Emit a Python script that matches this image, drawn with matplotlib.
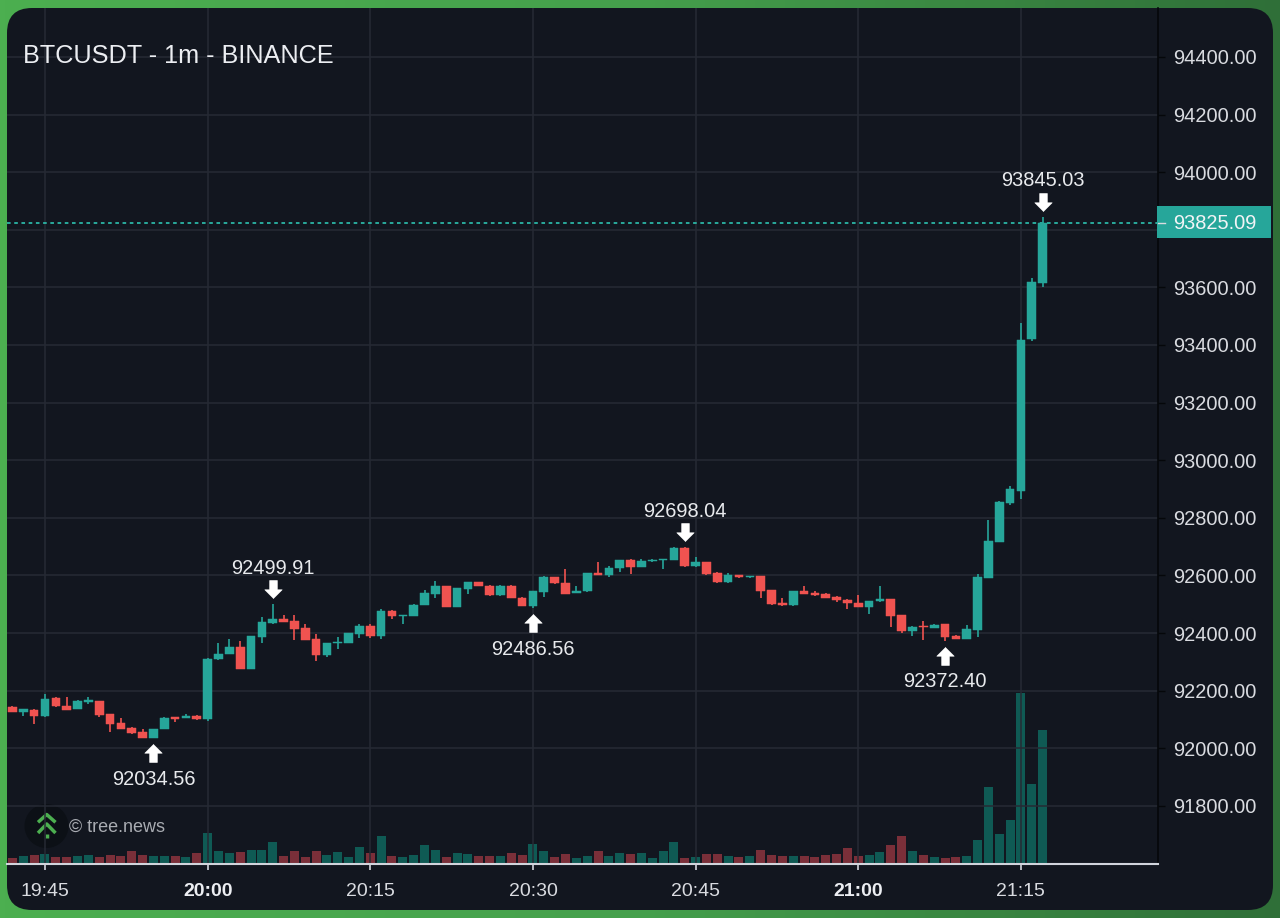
import numpy as np
import matplotlib
matplotlib.use("Agg")
import matplotlib.pyplot as plt
from matplotlib.colors import LinearSegmentedColormap
from matplotlib.patches import FancyBboxPatch, Circle, Rectangle
from matplotlib.path import Path
from matplotlib.transforms import offset_copy

plt.rcParams['font.family'] = ['Liberation Sans', 'DejaVu Sans']

# one-minute candles, 19:42 to 21:17
start_minute = 19 * 60 + 42
opens = [
 92144, 92127, 92134, 92111, 92173, 92148, 92136, 92160, 92163, 92119, 92088, 92069,
 92056, 92037, 92066, 92107, 92105, 92111, 92100, 92309, 92327, 92351, 92276, 92387,
 92434, 92450, 92442, 92417, 92379, 92322, 92365, 92365, 92397, 92423, 92388, 92478,
 92459, 92459, 92497, 92537, 92562, 92490, 92553, 92577, 92564, 92531, 92564, 92523,
 92495, 92542, 92593, 92574, 92539, 92545, 92609, 92601, 92624, 92655, 92629, 92649,
 92652, 92653, 92696, 92631, 92645, 92609, 92576, 92601, 92593, 92597, 92549, 92505,
 92496, 92546, 92540, 92537, 92524, 92515, 92505, 92490, 92510, 92517, 92461, 92408,
 92423, 92417, 92430, 92388, 92380, 92412, 92591, 92717, 92852, 92894, 93421, 93616]
closes = [
 92126, 92135, 92112, 92172, 92145, 92134, 92163, 92166, 92116, 92085, 92067, 92054,
 92037, 92066, 92106, 92100, 92112, 92100, 92311, 92328, 92351, 92276, 92390, 92438,
 92447, 92438, 92414, 92377, 92322, 92366, 92370, 92399, 92424, 92388, 92478, 92459,
 92462, 92498, 92540, 92562, 92490, 92556, 92577, 92563, 92531, 92564, 92523, 92495,
 92546, 92593, 92572, 92537, 92545, 92608, 92602, 92627, 92653, 92628, 92650, 92655,
 92656, 92696, 92631, 92645, 92606, 92576, 92602, 92593, 92597, 92546, 92502, 92496,
 92546, 92537, 92533, 92523, 92513, 92503, 92490, 92511, 92518, 92459, 92408, 92422,
 92420, 92429, 92385, 92379, 92414, 92593, 92718, 92856, 92899, 93417, 93619, 93825.09]
highs = [
 92145, 92136, 92135, 92188, 92177, 92177, 92167, 92179, 92164, 92120, 92106, 92075,
 92066, 92067, 92107, 92108, 92118, 92116, 92312, 92364, 92379, 92372, 92391, 92456,
 92499.91, 92461, 92461, 92431, 92397, 92367, 92386, 92400, 92431, 92430, 92485, 92479,
 92463, 92499, 92549, 92582, 92563, 92557, 92578, 92578, 92565, 92565, 92565, 92524,
 92547, 92599, 92594, 92621, 92564, 92609, 92645, 92634, 92654, 92656, 92657, 92656,
 92657, 92697, 92698.04, 92664, 92646, 92613, 92607, 92602, 92598, 92598, 92550, 92520,
 92547, 92564, 92545, 92538, 92528, 92518, 92531, 92512, 92564, 92518, 92462, 92425,
 92443, 92430, 92431, 92392, 92427, 92605, 92792, 92857, 92910, 93477, 93634, 93845.03]
lows = [
 92125, 92112, 92085, 92110, 92144, 92133, 92135, 92153, 92108, 92057, 92066, 92048,
 92036, 92034.56, 92065, 92090, 92104, 92098, 92093, 92308, 92326, 92275, 92275, 92364,
 92430, 92437, 92376, 92376, 92303, 92318, 92344, 92364, 92384, 92382, 92380, 92449,
 92432, 92458, 92496, 92521, 92489, 92489, 92537, 92562, 92530, 92530, 92522, 92494,
 92486.56, 92524, 92569, 92536, 92538, 92544, 92601, 92593, 92612, 92606, 92628, 92648,
 92621, 92652, 92630, 92630, 92601, 92575, 92575, 92592, 92590, 92521, 92498, 92495,
 92495, 92536, 92530, 92522, 92506, 92484, 92489, 92465, 92509, 92421, 92401, 92391,
 92377, 92416, 92372.40, 92378, 92379, 92386, 92590, 92716, 92845, 92867, 93415, 93600]
volumes = [
 6, 8, 8.7, 9.7, 7.3, 7.3, 8, 8.7, 7.3, 8.7, 8, 13.3,
 9, 8, 8.3, 8.3, 7.3, 10.7, 31, 13.3, 10.7, 11.7, 14.3, 14.3,
 22.3, 8.3, 13.3, 7.3, 13.3, 8.7, 11.7, 7.3, 17.3, 10.7, 27.7, 8,
 7, 8.7, 19, 13.7, 7.3, 11.3, 10, 8, 8, 8, 10.7, 9.3,
 20, 12.7, 7.3, 9.7, 6.3, 8, 13, 8, 10.7, 10, 10.7, 6.3,
 13, 21.7, 6.3, 7.3, 10, 10, 8, 7.3, 8, 13.7, 9, 8,
 8, 7.7, 6.7, 8.7, 9.7, 15.7, 7.7, 9.3, 12, 19.3, 27.7, 13,
 9.3, 7.3, 5.7, 7, 7.7, 24, 77.3, 30, 44, 171, 80, 134]

price_ticks = [91800, 92000, 92200, 92400, 92600, 92800, 93000, 93200,
               93400, 93600, 93800, 94000, 94200, 94400]
# 93800 keeps its grid line, but the last-price tag covers its label
hidden_price_labels = [93800]
time_ticks = [3, 18, 33, 48, 63, 78, 93]
time_labels = ['19:45', '20:00', '20:15', '20:30', '20:45', '21:00', '21:15']
bold_times = ['20:00', '21:00']
# (minute index, value, 'high' or 'low')
extrema = [(13, 92034.56, 'low'), (24, 92499.91, 'high'), (48, 92486.56, 'low'),
           (62, 92698.04, 'high'), (86, 92372.40, 'low'), (95, 93845.03, 'high')]
last_price = 93825.09
title = 'BTCUSDT - 1m - BINANCE'

UP, DOWN = '#26a69a', '#f05350'
VUP, VDOWN = '#0f5a54', '#7a2f39'
PANEL, GRID, TEXT = '#12161f', '#262a34', '#d9dbe0'

W, H = 1280, 918
fig = plt.figure(figsize=(W / 100, H / 100), dpi=100)
fs = lambda px: px * 0.72

# green frame and dark rounded panel
bg = fig.add_axes([0, 0, 1, 1])
bg.set_xlim(0, W); bg.set_ylim(H, 0); bg.axis('off')
cmap = LinearSegmentedColormap.from_list('frame', ['#4caf50', '#45a04c', '#2f6f38'])
bg.imshow(np.linspace(0, 1, 256)[None, :], cmap=cmap, extent=(0, W, H, 0), aspect='auto')
bg.add_patch(FancyBboxPatch((7 + 25, 8 + 25), 1266 - 50, 902 - 50,
                            boxstyle='round,pad=25,rounding_size=25', fc=PANEL, ec='none'))
bg.set_xlim(0, W); bg.set_ylim(H, 0)

rect = [7 / W, (H - 864) / H, 1151 / W, 856 / H]
xlim = (-0.504, 105.64)
ylim = (91598, 94570)
minutes = np.arange(len(opens))
o, c, hi, lo, v = map(np.array, (opens, closes, highs, lows, volumes))
up = c >= o

# volume pane: tallest bar fills the lower fifth of the chart
av = fig.add_axes(rect, facecolor='none')
av.set_xlim(xlim); av.set_ylim(0, v.max() / 0.2); av.axis('off')
av.bar(minutes, v, width=0.83, color=np.where(up, VUP, VDOWN), linewidth=0)

# price pane
ax = fig.add_axes(rect, facecolor='none')
ax.set_xlim(xlim); ax.set_ylim(ylim)
ax.yaxis.tick_right()
ax.set_yticks(price_ticks)
ax.set_yticklabels(['' if p in hidden_price_labels else f'{p:.2f}' for p in price_ticks],
                   fontsize=fs(20), color=TEXT)
ax.set_xticks(time_ticks)
ax.set_xticklabels(time_labels, fontsize=fs(19.5), color=TEXT)
for lab in ax.get_xticklabels():
    if lab.get_text() in bold_times:
        lab.set_fontweight('bold')
        lab.set_color('#eceef2')
ax.tick_params(axis='y', length=5, width=1, color='#05070a', pad=6)
ax.tick_params(axis='x', length=4, width=1.2, color='#d1d4dc', pad=10)
ax.grid(True, color=GRID, linewidth=1.1)
ax.set_axisbelow(True)
for s in ('top', 'left'):
    ax.spines[s].set_visible(False)
ax.spines['right'].set_color('#05070a'); ax.spines['right'].set_linewidth(1.2)
ax.spines['bottom'].set_color('#d1d4dc'); ax.spines['bottom'].set_linewidth(1.5)

colors = np.where(up, UP, DOWN)
ax.vlines(minutes, lo, hi, colors=colors, linewidth=1.2, zorder=3)
ax.bar(minutes, np.abs(c - o), bottom=np.minimum(o, c), width=0.8, color=colors,
       edgecolor=colors, linewidth=0.35, zorder=4)

# last price line and tag
ax.axhline(last_price, color='#2bb5a6', linewidth=1.3, linestyle=(0, (2, 2)), zorder=2)
ax.add_patch(Rectangle((1157, 206), 114, 32, fc=UP, ec='none', zorder=7,
                       transform=bg.transData, clip_on=False))
ax.plot([1, 1.006], [last_price, last_price], transform=ax.get_yaxis_transform(),
        color='#d9dbe0', linewidth=1, clip_on=False, zorder=8)
fig.text(1173.5 / W, 1 - 223.5 / H, f'{last_price:.2f}', fontsize=fs(20), color='#f2f4f6',
         va='center', ha='left', zorder=10)

# extreme markers
arrow = Path([(0, -9), (8.7, -0.3), (3.8, -0.3), (3.8, 9), (-3.8, 9), (-3.8, -0.3), (-8.7, -0.3), (0, -9)])
arrow_up = Path(arrow.vertices * np.array([1, -1]))
for m, val, kind in extrema:
    sign = 1 if kind == 'high' else -1
    tr = offset_copy(ax.transData, fig=fig, y=sign * 15, units='dots')
    ax.plot([m], [val], marker=arrow if kind == 'high' else arrow_up, markersize=18 * 0.72,
            markerfacecolor='white', markeredgecolor='white', markeredgewidth=0.4,
            transform=tr, zorder=6)
    tt = offset_copy(ax.transData, fig=fig, y=sign * (36 if kind == 'high' else 41), units='dots')
    ax.text(m, val, f'{val:.2f}', transform=tt, fontsize=fs(20), color='#e8eaed',
            ha='center', va='center', zorder=6)

# title and watermark
fig.text(23 / W, 1 - 56 / H, title, fontsize=fs(25.3), color='#eceef2', va='center', ha='left')
bg.add_patch(Circle((46.5, 826), 22, fc='#0c1016', ec='none', zorder=2))
bg.plot([38, 46.7, 55.5], [822.3, 814.5, 822.3], color='#4caf50', lw=2.5, zorder=3, solid_capstyle='butt')
bg.plot([38, 46.7, 55.5], [833, 824, 833], color='#4caf50', lw=2.5, zorder=3, solid_capstyle='butt')
bg.plot([46.7, 46.7], [834, 838], color='#4caf50', lw=2.5, zorder=3, solid_capstyle='butt')
fig.text(69 / W, 1 - 827 / H, '© tree.news', fontsize=fs(18), color='#a9acb2', va='center', ha='left')

fig.savefig('out.png', dpi=100)
